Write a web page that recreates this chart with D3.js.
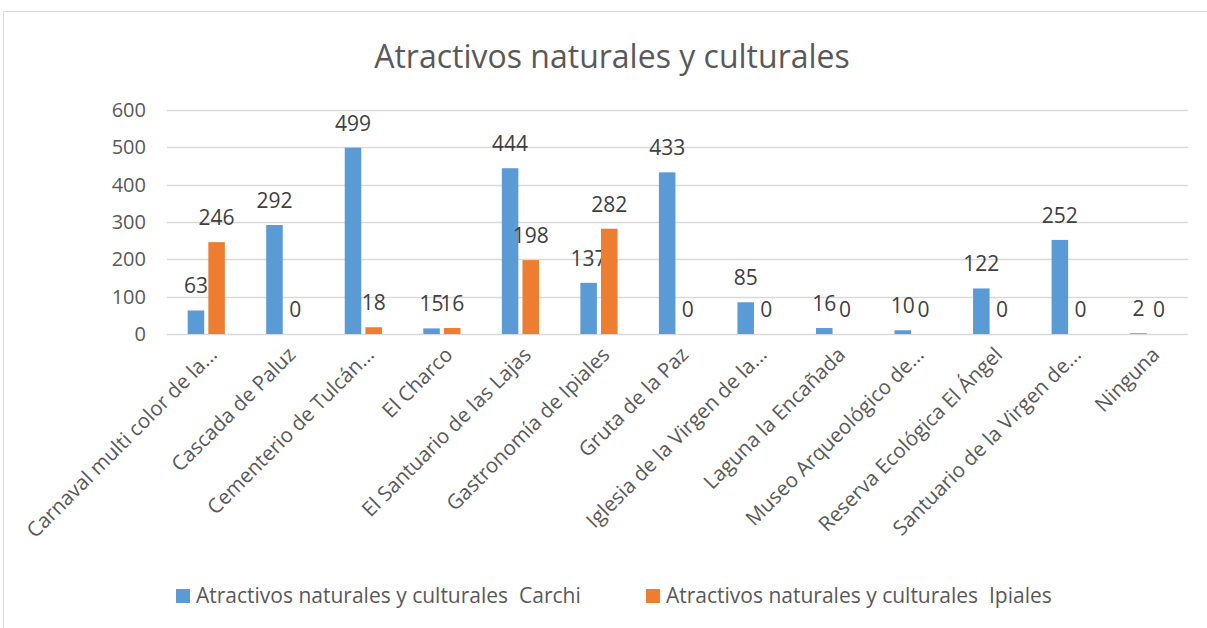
<!DOCTYPE html>
<html>
<head>
<meta charset="utf-8">
<script src="https://cdn.jsdelivr.net/npm/d3@7"></script>
<style>
  body { margin: 0; background: #fff; }
  text { font-family: "Open Sans", sans-serif; white-space: pre; }
</style>
</head>
<body>
<div id="viz"></div>
<script>
var categories = [
  'Carnaval multi color de la...', 'Cascada de Paluz', 'Cementerio de Tulcán...',
  'El Charco', 'El Santuario de las Lajas', 'Gastronomía de Ipiales',
  'Gruta de la Paz', 'Iglesia de la Virgen de la...', 'Laguna la Encañada',
  'Museo Arqueológico de...', 'Reserva Ecológica El Ángel',
  'Santuario de la Virgen de...', 'Ninguna'
];
var carchi  = [63, 292, 499, 15, 444, 137, 433, 85, 16, 10, 122, 252, 2];
var ipiales = [246, 0, 18, 16, 198, 282, 0, 0, 0, 0, 0, 0, 0];
var seriesNames = ['Atractivos naturales y culturales  Carchi',
                   'Atractivos naturales y culturales  Ipiales'];
var yTicks = [0, 100, 200, 300, 400, 500, 600];

var width = 1207, height = 628,
    plotLeft = 167, plotRight = 1188, plotTop = 110, plotBottom = 334;
var colors = ['#5B9BD5', '#ED7D31'];

var svg = d3.select('#viz').append('svg')
    .attr('width', width)
    .attr('height', height);

// chart frame
svg.append('rect')
    .attr('x', 3.5).attr('y', 11.5)
    .attr('width', 1210).attr('height', 640)
    .attr('fill', 'none')
    .attr('stroke', '#D9D9D9');

svg.append('text')
    .attr('x', 612).attr('y', 68)
    .attr('text-anchor', 'middle')
    .attr('font-size', 32)
    .attr('fill', '#595959')
    .text('Atractivos naturales y culturales');

var y = d3.scaleLinear().domain([0, 600]).range([plotBottom, plotTop]);
var x = d3.scaleBand().domain(categories).range([plotLeft, plotRight]);
var x1 = d3.scaleBand().domain([0, 1]).range([0, x.bandwidth()])
    .paddingInner(0.2).paddingOuter(1.0);

// grid
svg.selectAll('.grid').data(yTicks).enter().append('line')
    .attr('x1', plotLeft).attr('x2', plotRight)
    .attr('y1', function(d){ return Math.round(y(d)) + 0.5; })
    .attr('y2', function(d){ return Math.round(y(d)) + 0.5; })
    .attr('stroke', '#D9D9D9')
    .attr('stroke-width', 1.5);

svg.selectAll('.ylab').data(yTicks).enter().append('text')
    .attr('x', 146)
    .attr('y', function(d){ return y(d) + 7; })
    .attr('text-anchor', 'end')
    .attr('font-size', 20)
    .attr('fill', '#595959')
    .text(function(d){ return d; });

var groups = svg.selectAll('.cat').data(categories).enter().append('g')
    .attr('transform', function(d){ return 'translate(' + x(d) + ',0)'; });

[carchi, ipiales].forEach(function(vals, s){
  groups.append('rect')
    .attr('x', x1(s))
    .attr('width', x1.bandwidth())
    .attr('y', function(d, i){ return y(vals[i]); })
    .attr('height', function(d, i){ return y(0) - y(vals[i]); })
    .attr('fill', colors[s]);
  groups.append('text')
    .attr('x', x1(s) + x1.bandwidth() / 2)
    .attr('y', function(d, i){ return y(vals[i]) - 17; })
    .attr('text-anchor', 'middle')
    .attr('font-size', 21)
    .attr('fill', '#404040')
    .text(function(d, i){ return vals[i]; });
});

// category labels
svg.selectAll('.xlab').data(categories).enter().append('text')
    .attr('transform', function(d){
      return 'translate(' + (x(d) + x.bandwidth() / 2 + 12) + ',356) rotate(-45)';
    })
    .attr('text-anchor', 'end')
    .attr('font-size', 20.5)
    .attr('fill', '#595959')
    .text(function(d){ return d; });

// legend
var legX = [176, 646];
seriesNames.forEach(function(n, s){
  svg.append('rect')
    .attr('x', legX[s]).attr('y', 589)
    .attr('width', 14).attr('height', 14)
    .attr('fill', colors[s]);
  svg.append('text')
    .attr('x', legX[s] + 20).attr('y', 603)
    .attr('font-size', 21)
    .attr('fill', '#595959')
    .text(n);
});
</script>
</body>
</html>
